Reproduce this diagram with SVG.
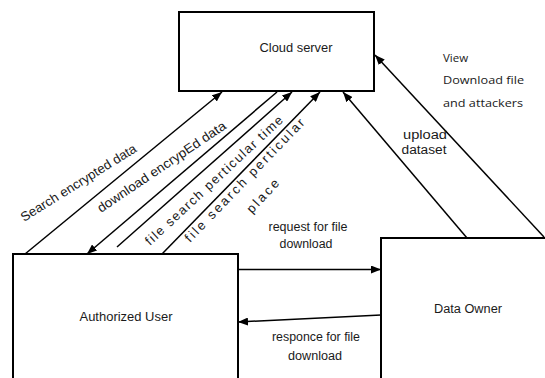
<svg xmlns="http://www.w3.org/2000/svg" width="545" height="378" viewBox="0 0 545 378">
<style>
.box{fill:#fff;stroke:#000;stroke-width:2}
.ln{fill:none;stroke:#000;stroke-width:1.5}
.t{font-family:"Liberation Sans",Arial,sans-serif;font-size:12px;fill:#1a1a1a}
.r{font-size:13px}
.c{text-anchor:middle}
.v{font-family:"Open Sans","Liberation Sans",sans-serif;font-size:11.5px;fill:#1a1a1a}
</style>
<defs>
<marker id="ah" viewBox="0 0 10 8" refX="10" refY="4" markerWidth="10" markerHeight="8" markerUnits="userSpaceOnUse" orient="auto">
<path d="M0,0 L10,4 L0,8 z" fill="#000"/>
</marker>
</defs>
<rect width="545" height="378" fill="#fff"/>
<g id="cloud-server">
<rect class="box" x="179" y="12" width="195" height="79"/>
<text class="t c" x="296" y="52" textLength="73" lengthAdjust="spacingAndGlyphs">Cloud server</text>
</g>
<g id="authorized-user">
<rect class="box" x="13" y="254" width="225" height="140"/>
<text class="t c" x="126" y="321" textLength="93" lengthAdjust="spacingAndGlyphs">Authorized User</text>
</g>
<g id="data-owner">
<rect class="box" x="381" y="238" width="170" height="160"/>
<text class="t c" x="468" y="313" textLength="68" lengthAdjust="spacingAndGlyphs">Data Owner</text>
</g>
<g id="connectors">
<line class="ln" x1="25" y1="254" x2="222" y2="92" marker-end="url(#ah)"/>
<line class="ln" x1="277" y1="92" x2="87" y2="254" marker-end="url(#ah)"/>
<line class="ln" x1="117" y1="247" x2="292" y2="92" marker-end="url(#ah)"/>
<line class="ln" x1="162" y1="254" x2="320" y2="92" marker-end="url(#ah)"/>
<line class="ln" x1="467" y1="238" x2="343" y2="92" marker-end="url(#ah)"/>
<line class="ln" x1="544" y1="237" x2="375" y2="55" marker-end="url(#ah)"/>
<line class="ln" x1="238" y1="269.5" x2="381" y2="269.5" marker-end="url(#ah)"/>
<line class="ln" x1="381" y1="315" x2="238" y2="322" marker-end="url(#ah)"/>
<text class="t r" transform="translate(24,222) rotate(-32)" textLength="134" lengthAdjust="spacingAndGlyphs">Search encrypted data</text>
<text class="t r" transform="translate(101,213) rotate(-34)" textLength="152" lengthAdjust="spacingAndGlyphs">download encrypEd data</text>
<text class="t r" transform="translate(150,246) rotate(-43)" textLength="183" lengthAdjust="spacing">file search perticular time</text>
<text class="t r" transform="translate(190,243) rotate(-46)" textLength="166" lengthAdjust="spacing">file search perticular</text>
<text class="t r" transform="translate(252,214) rotate(-47)" textLength="41" lengthAdjust="spacing">place</text>
<text class="t c" x="308" y="231" textLength="79" lengthAdjust="spacingAndGlyphs">request for file</text>
<text class="t c" x="306" y="248" textLength="53" lengthAdjust="spacingAndGlyphs">download</text>
<text class="t c" x="316" y="341" textLength="88" lengthAdjust="spacingAndGlyphs">responce for file</text>
<text class="t c" x="315" y="360" textLength="54" lengthAdjust="spacingAndGlyphs">download</text>
<text class="t c" x="425" y="139" textLength="44" lengthAdjust="spacingAndGlyphs">upload</text>
<text class="t c" x="424" y="154" textLength="45" lengthAdjust="spacingAndGlyphs">dataset</text>
<text class="v" x="443" y="62">View</text>
<text class="v" x="443" y="84" textLength="81" lengthAdjust="spacingAndGlyphs">Download file</text>
<text class="v" x="443" y="107" textLength="80" lengthAdjust="spacingAndGlyphs">and attackers</text>
</g>
</svg>
